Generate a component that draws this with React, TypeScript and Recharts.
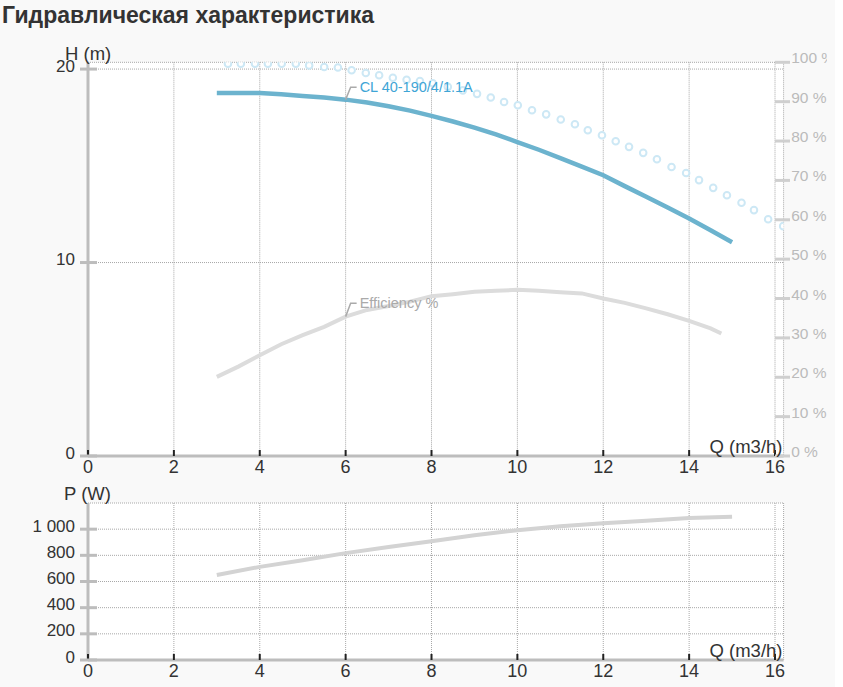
import React from 'react';
import { LineChart, Line, XAxis, YAxis, CartesianGrid } from 'recharts';

const FONT = '"Liberation Sans", Arial, sans-serif';

// Tick labels
const qTicks = [0, 2, 4, 6, 8, 10, 12, 14, 16];
const hTicks = [0, 10, 20];
const effTicks = [0, 10, 20, 30, 40, 50, 60, 70, 80, 90, 100];
const pTicks = [0, 200, 400, 600, 800, 1000];

// Head curve CL 40-190/4/1.1A
const headQ = [3, 3.5, 4, 4.5, 5, 5.5, 6, 6.5, 7, 7.5, 8, 8.5, 9, 9.5, 10, 10.5, 11, 11.5, 12, 12.5, 13, 13.5, 14, 14.5, 15];
const headH = [18.76, 18.76, 18.76, 18.7, 18.61, 18.53, 18.42, 18.27, 18.08, 17.85, 17.58, 17.29, 16.97, 16.62, 16.23, 15.83, 15.4, 14.96, 14.51, 13.95, 13.4, 12.84, 12.28, 11.67, 11.05];

// Efficiency %
const effQ = [3, 3.5, 4, 4.5, 5, 5.5, 6, 6.5, 7, 7.5, 8, 8.5, 9, 9.5, 10, 10.5, 11, 11.5, 12, 12.5, 13, 13.5, 14, 14.5, 14.75];
const effV = [20.1, 22.7, 25.6, 28.4, 30.7, 32.8, 35.4, 37.1, 38.1, 39.2, 40.6, 41.1, 41.7, 42.0, 42.2, 42.0, 41.6, 41.3, 40.0, 38.9, 37.5, 36.0, 34.3, 32.4, 31.1];

// Circle-marked curve
const circQ = [3.26, 3.56, 3.89, 4.19, 4.51, 4.84, 5.15, 5.5, 5.82, 6.14, 6.47, 6.78, 7.1, 7.42, 7.73, 8.03, 8.38, 8.73, 9.06, 9.38, 9.69, 10.01, 10.34, 10.67, 11.01, 11.34, 11.64, 11.97, 12.29, 12.6, 12.93, 13.25, 13.59, 13.93, 14.23, 14.56, 14.88, 15.22, 15.51, 15.84, 16.19];
const circH = [20.28, 20.28, 20.28, 20.28, 20.28, 20.28, 20.19, 20.11, 20.08, 19.94, 19.8, 19.68, 19.55, 19.45, 19.38, 19.27, 19.08, 18.9, 18.72, 18.53, 18.3, 18.13, 17.87, 17.66, 17.39, 17.15, 16.84, 16.58, 16.27, 15.98, 15.67, 15.34, 14.94, 14.63, 14.26, 13.86, 13.48, 13.09, 12.71, 12.24, 11.88];

// Power P (W)
const powQ = [3, 4, 5, 6, 7, 8, 9, 10, 11, 12, 13, 14, 15];
const powP = [649, 712, 763, 817, 863, 908, 954, 992, 1023, 1045, 1065, 1085, 1094];

const headData = headQ.map((q, i) => ({ q, h: headH[i] }));
const effData = effQ.map((q, i) => ({ q, e: effV[i] }));
const circData = circQ.map((q, i) => ({ q, c: circH[i] }));
const powData = powQ.map((q, i) => ({ q, p: powP[i] }));

const fmt = (v: number) => String(v).replace(/\B(?=(\d{3})+(?!\d))/g, ' ');

const LeftTick = (p: any) => {
  const { x, y, payload } = p;
  return (
    <g>
      <line x1={x + 5} x2={x + 22} y1={y} y2={y} stroke="#bdbdbd" strokeWidth={3} />
      <text x={x} y={y + 2.5} textAnchor="end" fontSize={17} fill="#333" fontFamily={FONT}>
        {fmt(payload.value)}
      </text>
    </g>
  );
};

const RightTick = (p: any) => {
  const { x, y, payload } = p;
  return (
    <g>
      <line x1={x - 8.6} x2={x + 6.4} y1={y} y2={y} stroke="#cfcfcf" strokeWidth={3} />
      <text x={x + 7.6} y={y + 1} textAnchor="start" fontSize={15.5} fill="#bbb" fontFamily={FONT}>
        {payload.value + ' %'}
      </text>
    </g>
  );
};

const BottomTick = (p: any) => {
  const { x, y, payload } = p;
  return (
    <g>
      <line x1={x} x2={x} y1={y - 6} y2={y} stroke="#222" strokeWidth={2} />
      <text x={x} y={y + 17} textAnchor="middle" fontSize={18} fill="#333" fontFamily={FONT}>
        {payload.value}
      </text>
    </g>
  );
};

const makeLabelDot = (idx: number, text: string, color: string, dy: number) => (p: any) => {
  const { cx, cy, index } = p;
  if (index !== idx) return <g key={`d-${index}`} />;
  return (
    <g key={`d-${index}`}>
      <polyline
        points={`${cx},${cy} ${cx + 5},${cy + dy} ${cx + 11},${cy + dy}`}
        fill="none"
        stroke="#aaa"
        strokeWidth={1.5}
      />
      <text x={cx + 14} y={cy + dy + 4.5} fontSize={14.5} fill={color} fontFamily={FONT}>
        {text}
      </text>
    </g>
  );
};

const headLabel = makeLabelDot(6, 'CL 40-190/4/1.1A', '#3fa5d6', -12.5);
const effLabel = makeLabelDot(6, 'Efficiency %', '#aaa', -13.5);

export default function App() {
  return (
    <div
      style={{
        position: 'absolute',
        left: 0,
        top: 0,
        width: 835,
        height: 687,
        background: '#f9f9f9',
        overflow: 'hidden',
        fontFamily: FONT,
      }}
    >
      <div style={{ position: 'absolute', left: 0, top: 0 }}>
        <LineChart width={827} height={486} margin={{ top: 62.3, right: 0, bottom: 0, left: 0 }}>
          <CartesianGrid yAxisId="left" stroke="#a8a8a8" strokeDasharray="1 1" fill="#fff" />
          <XAxis
            type="number"
            dataKey="q"
            domain={[0, 16.2]}
            ticks={qTicks}
            interval={0}
            height={30}
            tickSize={0}
            tickMargin={0}
            tickLine={false}
            axisLine={{ stroke: '#bdbdbd', strokeWidth: 3 }}
            tick={<BottomTick />}
            allowDataOverflow
          />
          <YAxis
            yAxisId="left"
            orientation="left"
            type="number"
            domain={[0, 20.35]}
            ticks={hTicks}
            interval={0}
            width={88}
            tickSize={8}
            tickMargin={5}
            tickLine={false}
            axisLine={{ stroke: '#bdbdbd', strokeWidth: 3 }}
            tick={<LeftTick />}
            allowDataOverflow
          />
          <YAxis
            yAxisId="right"
            orientation="right"
            type="number"
            domain={[0, 100]}
            ticks={effTicks}
            interval={0}
            width={43.4}
            tickSize={0}
            tickMargin={0}
            tickLine={false}
            axisLine={false}
            tick={<RightTick />}
            allowDataOverflow
          />
          <Line
            yAxisId="right"
            data={effData}
            dataKey="e"
            type="linear"
            stroke="#dcdcdc"
            strokeWidth={4}
            dot={effLabel}
            activeDot={false}
            isAnimationActive={false}
          />
          <Line
            yAxisId="left"
            data={circData}
            dataKey="c"
            type="linear"
            stroke="none"
            strokeWidth={0}
            dot={{ r: 3.3, stroke: '#cde8f5', strokeWidth: 2, fill: '#fff' }}
            activeDot={false}
            isAnimationActive={false}
          />
          <Line
            yAxisId="left"
            data={headData}
            dataKey="h"
            type="linear"
            stroke="#6cb3ce"
            strokeWidth={4.5}
            dot={headLabel}
            activeDot={false}
            isAnimationActive={false}
          />
        </LineChart>
      </div>
      <div style={{ position: 'absolute', left: 0, top: 480 }}>
        <LineChart width={827} height={207} margin={{ top: 23, right: 43.4, bottom: 0, left: 0 }}>
          <CartesianGrid stroke="#a8a8a8" strokeDasharray="1 1" fill="#fff" />
          <XAxis
            type="number"
            dataKey="q"
            domain={[0, 16.2]}
            ticks={qTicks}
            interval={0}
            height={27}
            tickSize={0}
            tickMargin={0}
            tickLine={false}
            axisLine={{ stroke: '#bdbdbd', strokeWidth: 3 }}
            tick={<BottomTick />}
            allowDataOverflow
          />
          <YAxis
            type="number"
            domain={[0, 1200]}
            ticks={pTicks}
            interval={0}
            width={88}
            tickSize={8}
            tickMargin={5}
            tickLine={false}
            axisLine={{ stroke: '#bdbdbd', strokeWidth: 3 }}
            tick={<LeftTick />}
            allowDataOverflow
          />
          <Line
            data={powData}
            dataKey="p"
            type="linear"
            stroke="#d3d3d3"
            strokeWidth={4}
            dot={false}
            activeDot={false}
            isAnimationActive={false}
          />
        </LineChart>
      </div>
      <svg
        width={835}
        height={687}
        style={{ position: 'absolute', left: 0, top: 0, pointerEvents: 'none' }}
      >
        <text x={2} y={23} fontSize={23} fontWeight="bold" fill="#333" fontFamily={FONT}>
          Гидравлическая характеристика
        </text>
        <text x={65} y={59.5} fontSize={18.5} fill="#333" fontFamily={FONT}>
          H (m)
        </text>
        <text x={782.5} y={453} textAnchor="end" fontSize={18.5} fill="#333" fontFamily={FONT}>
          Q (m3/h)
        </text>
        <text x={64} y={500} fontSize={18.5} fill="#333" fontFamily={FONT}>
          P (W)
        </text>
        <text x={782.5} y={656.5} textAnchor="end" fontSize={18.5} fill="#333" fontFamily={FONT}>
          Q (m3/h)
        </text>
      </svg>
    </div>
  );
}
